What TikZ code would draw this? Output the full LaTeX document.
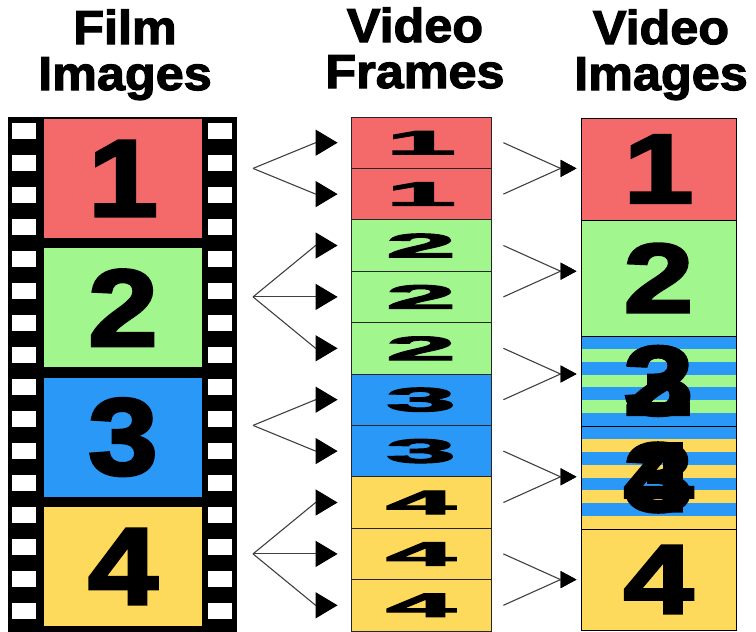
\documentclass[tikz,border=0pt]{standalone}
\usepackage{graphicx}
\usepackage{fontspec}
\setmainfont{Liberation Sans}
\newfontfamily\headfont[FakeBold=2.5,FakeStretch=1.06]{Liberation Sans Bold}
\newfontfamily\numfont[FakeBold=3,FakeStretch=1.15]{Liberation Sans Bold}
\usetikzlibrary{arrows.meta, calc}

\definecolor{filmred}{HTML}{F46A6A}
\definecolor{filmgreen}{HTML}{A1F78D}
\definecolor{filmblue}{HTML}{2A98F7}
\definecolor{filmyellow}{HTML}{FDD95C}

\newcommand\squash[1]{\scalebox{1}[0.31]{#1}}
\newcommand\tallnum[1]{\scalebox{1}[0.9]{#1}}

\begin{document}
\begin{tikzpicture}[
  x=1pt, y=-1pt,
  title/.style={align=center, anchor=base, font=\headfont\fontsize{47.5}{46}\selectfont},
  filmframe/.style={minimum width=158pt, minimum height=119pt, inner sep=0pt,
                    font=\numfont\fontsize{109}{109}\selectfont},
  field/.style={draw=black!85, line width=0.8pt, minimum width=140pt, minimum height=51.4pt,
                inner sep=0pt, font=\numfont\fontsize{109}{109}\selectfont},
  vimage/.style={draw=black, line width=1pt, minimum width=155pt, inner sep=0pt,
                 font=\numfont\fontsize{109}{109}\selectfont},
  stripes/.style n args={3}{fill=#1, path picture={
      \foreach \k in {1,3,...,#3}{\ifnum\k<#3\relax
        \fill[#2] ($(path picture bounding box.north west)!\k/#3!(path picture bounding box.south west)$)
          rectangle ($(path picture bounding box.north east)!{(\k+1)/#3}!(path picture bounding box.south east)$);
      \fi}}},
  fan/.style={draw=black!75, line width=1.1pt, -{Triangle[length=22pt,width=26pt,black]}},
  merge/.style={draw=black!75, line width=1.1pt, -{Triangle[length=16pt,width=17pt,black]}}
]
\useasboundingbox (0,0) rectangle (756,632);

\node[title] (ttlfilm)  at (125,90) {Film\\Images};
\node[title] (ttlframe) at (415,88) {Video\\Frames};
\node[title] (ttlvideo) at (661,90) {Video\\Images};

% film strip with sprocket holes
\fill[black] (8,117) rectangle (237,632);
\foreach \k in {0,...,15}{
  \fill[white] (12,{123+32*\k}) rectangle (36,{139+32*\k});
  \fill[white] (208,{123+32*\k}) rectangle (232,{139+32*\k});
}
\foreach \n/\c [count=\k from 0] in {1/filmred,2/filmgreen,3/filmblue,4/filmyellow}
  \node[filmframe, fill=\c] (f\n) at (123,{178.5+129.3*\k}) {\n};

% fields, two or three per film image
\foreach \n/\c [count=\k from 1] in {1/filmred,1/filmred,2/filmgreen,2/filmgreen,2/filmgreen,
                                     3/filmblue,3/filmblue,4/filmyellow,4/filmyellow,4/filmyellow}
  \node[field, fill=\c] (v\k) at (421,{117+51.4*(\k-0.5)}) {\squash{\n}};

% interlaced video images
\node[vimage, fill=filmred, minimum height=102pt]   (i1) at (658.5,169)   {\tallnum{1}};
\node[vimage, fill=filmgreen, minimum height=116pt] (i2) at (658.5,278)   {\tallnum{2}};
\node[vimage, stripes={filmblue}{filmgreen}{7}, minimum height=90pt]
                                                    (i3) at (658.5,381)   {\tallnum{\rlap{2}3}};
\node[vimage, stripes={filmblue}{filmyellow}{8}, minimum height=103pt]
                                                    (i4) at (658.5,477.5) {\tallnum{\rlap{3}4}};
\node[vimage, fill=filmyellow, minimum height=101pt] (i5) at (658.5,579.5) {\tallnum{4}};

\foreach \j [evaluate=\j as \a using int(2*\j-1), evaluate=\j as \b using int(2*\j)] in {1,...,5}{
  \coordinate (m\j) at ($(v\a)!0.5!(v\b)$);
  \coordinate (e\j) at (i\j.west |- m\j);
}

\coordinate (fan1) at ($(v1)!0.5!(v2)+(-168,0)$);
\coordinate (fan2) at ($(v4)+(-168,0)$);
\coordinate (fan3) at ($(v6)!0.5!(v7)+(-168,0)$);
\coordinate (fan4) at ($(v9)+(-168,0)$);

\foreach \a/\t in {1/1,1/2,2/3,2/4,2/5,3/6,3/7,4/8,4/9,4/10}
  \draw[fan] (fan\a) -- ([xshift=-35pt]v\t.west) -- ([xshift=-13pt]v\t.west);

\foreach \t/\j in {1/1,2/1,3/2,4/2,5/3,6/3,7/4,8/4,9/5,10/5}
  \draw[merge] ([xshift=12pt]v\t.east) -- ([xshift=-20pt]e\j) -- ([xshift=-4pt]e\j);
\end{tikzpicture}
\end{document}
